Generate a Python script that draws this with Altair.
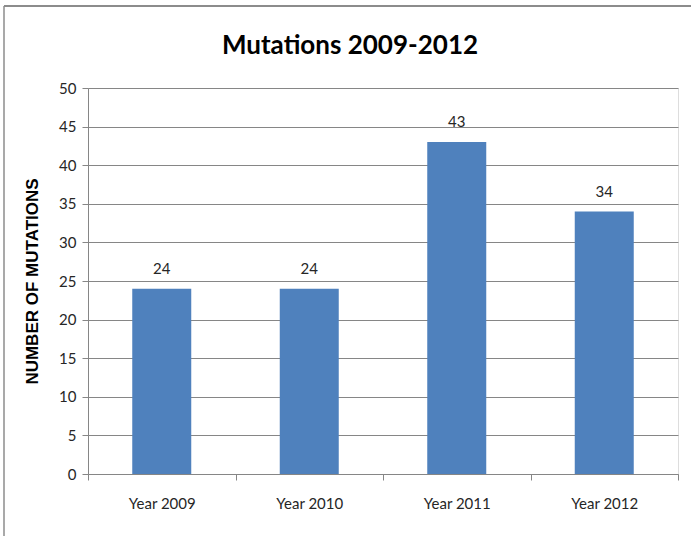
import altair as alt
import pandas as pd

# Mutation counts per year
years = ["Year 2009", "Year 2010", "Year 2011", "Year 2012"]
mutations = [24, 24, 43, 34]
y_ticks = [0, 5, 10, 15, 20, 25, 30, 35, 40, 45, 50]
chart_title = "Mutations 2009-2012"

df = pd.DataFrame({"year": years, "count": mutations})

LEFT, TOP = 88, 88
W, H = 590, 386

x_enc = alt.X(
    "year:N",
    sort=years,
    scale=alt.Scale(paddingInner=0, paddingOuter=0),
    axis=alt.Axis(
        title=None,
        labelAngle=0,
        labelFont="Lato",
        labelFontSize=15,
        labelColor="#262626",
        labelPadding=16,
        tickBand="extent",
        tickSize=6,
        tickColor="#868686",
        domainColor="#868686",
        grid=False,
    ),
)
y_enc = alt.Y(
    "count:Q",
    scale=alt.Scale(domain=[0, 50], nice=False),
    axis=alt.Axis(
        values=y_ticks,
        labelOverlap=False,
        title="NUMBER OF MUTATIONS",
        titleFont="Liberation Sans",
        titleFontSize=17,
        titleFontWeight="bold",
        titleColor="#000000",
        titlePadding=17,
        labelFont="Lato",
        labelFontSize=15,
        labelColor="#262626",
        labelPadding=6,
        tickSize=6,
        tickColor="#868686",
        domainColor="#868686",
        gridColor="#868686",
        gridWidth=1,
    ),
)

base = alt.Chart(df).encode(x=x_enc, y=y_enc)

bars = base.mark_bar(color="#4F81BD", width=59)

labels = base.mark_text(dy=-20, font="Lato", fontSize=15, color="#262626").encode(
    text="count:Q"
)

title_df = pd.DataFrame({"t": [chart_title]})
title = alt.Chart(title_df).mark_text(
    font="Lato",
    fontSize=26,
    fontWeight="bold",
    color="#000000",
    align="center",
    baseline="alphabetic",
    clip=False,
).encode(x=alt.value(350 - LEFT), y=alt.value(54 - TOP), text="t:N")

# Outer frame of the chart area (top and left edges)
frame_top = alt.Chart(title_df).mark_rule(color="#8c8c8c", strokeWidth=2, clip=False).encode(
    x=alt.value(-LEFT + 4), x2=alt.value(W + 20), y=alt.value(-TOP + 6)
)
frame_left = alt.Chart(title_df).mark_rule(color="#8c8c8c", strokeWidth=1.5, clip=False).encode(
    x=alt.value(-LEFT + 4), y=alt.value(-TOP + 6), y2=alt.value(H + 70)
)

chart = (
    alt.layer(bars, labels, title, frame_top, frame_left)
    .properties(
        width=W,
        height=H,
        autosize=alt.AutoSizeParams(type="none"),
        padding={"left": LEFT, "top": TOP, "right": 691 - LEFT - W, "bottom": 536 - TOP - H},
    )
    .configure_view(stroke=None)
    .configure(background="white")
)

chart.save("out.html", embed_options={"renderer": "svg", "actions": False})
